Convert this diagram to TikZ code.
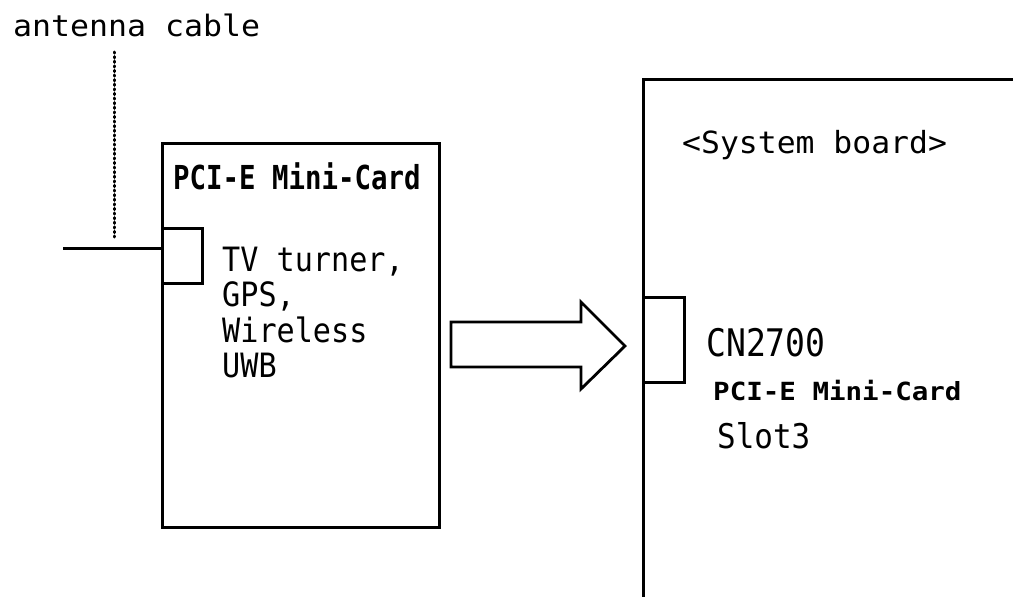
\documentclass[tikz,border=0pt]{standalone}
\usepackage{fontspec}
\newfontfamily\gmono{DejaVu Sans Mono}
\newcommand\gtxt[3]{\scalebox{#2}[1]{\fontsize{#1}{#1}\selectfont\gmono #3}}
\newcommand\gtxb[3]{\scalebox{#2}[1]{\fontsize{#1}{#1}\selectfont\gmono\bfseries #3}}
\begin{document}
\begin{tikzpicture}[x=1pt,y=-1pt,
  boxline/.style={draw=black, line width=3pt},
  cardbox/.style={boxline, fill=white, rectangle, inner sep=0pt},
  lbl/.style={anchor=base west, inner sep=0pt, text=black},
  dotline/.style={line width=3pt, line cap=round, dash pattern=on 1.2pt off 3.4pt}]
\useasboundingbox (0,0) rectangle (1013,597);
\fill[white] (0,0) rectangle (1013,597);
% system board
\begin{scope}
\clip (0,0) rectangle (1013,597);
\draw[boxline] (1020,79) -- (643,79) -- (643,605);
\end{scope}
% card
\node[cardbox, minimum width=277pt, minimum height=384pt] (card) at (300.5,335) {};
\node[cardbox, minimum width=40pt, minimum height=55pt] (cconn) at (182,255.5) {};
\node[cardbox, minimum width=41pt, minimum height=85pt] (bconn) at (663.5,339.5) {};
% antenna
\coordinate (ant) at (63,248);
\draw[line width=3pt] (ant) -- (ant -| cconn.west);
\coordinate (dtop) at (114,52);
\coordinate (dbot) at (114,237);
\draw[dotline] (dtop) -- (dbot);
% big arrow
\draw[line width=2.8pt, line join=miter] (451,322) -- (581,322) -- (581,302) -- (625,346) -- (581,389) -- (581,367) -- (451,367) -- cycle;
% texts
\node[lbl] (tant) at (13,36) {\gtxt{29.5}{1.07}{antenna cable}};
\node[lbl] (tcard) at (173,189) {\gtxb{33}{0.83}{PCI-E Mini-Card}};
\node[lbl] (t1) at (222,271) {\gtxt{33.5}{0.9}{TV turner,}};
\node[lbl] (t2) at (222,306) {\gtxt{33.5}{0.9}{GPS,}};
\node[lbl] (t3) at (222,342) {\gtxt{33.5}{0.9}{Wireless}};
\node[lbl] (t4) at (222,377) {\gtxt{33.5}{0.9}{UWB}};
\node[lbl] (tsys) at (682,153) {\gtxt{30.5}{1.03}{<System board>}};
\node[lbl] (tcn) at (706,356) {\gtxt{38}{0.87}{CN2700}};
\node[lbl] (tslot1) at (713,400) {\gtxb{25}{1.1}{PCI-E Mini-Card}};
\node[lbl] (tslot2) at (717,448) {\gtxt{34}{0.91}{Slot3}};
\end{tikzpicture}
\end{document}
